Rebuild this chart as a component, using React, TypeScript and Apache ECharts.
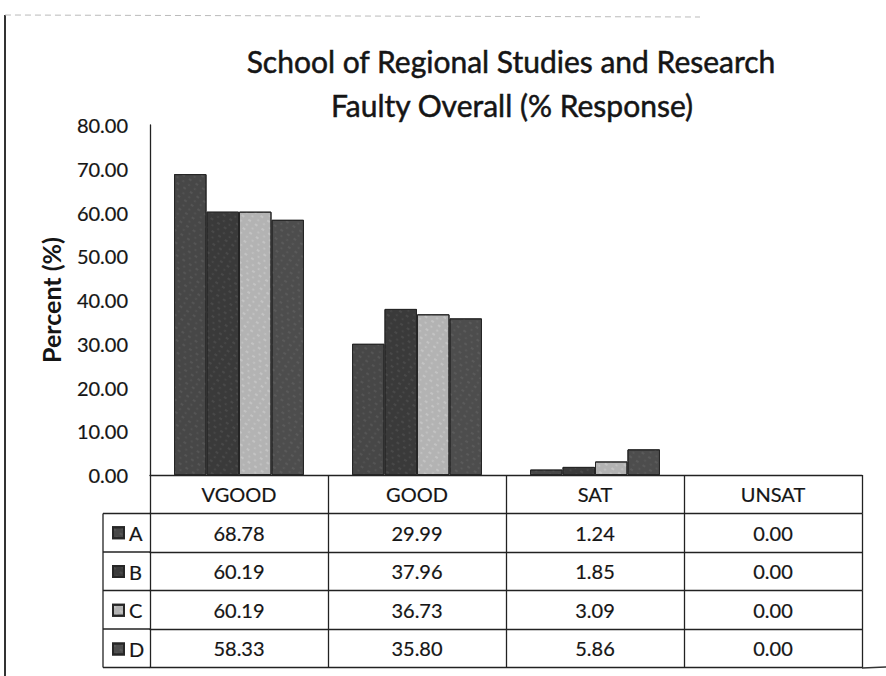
import React, { useEffect, useRef } from "react";
import * as echarts from "echarts";

const categories = ["VGOOD", "GOOD", "SAT", "UNSAT"];
const seriesNames = ["A", "B", "C", "D"];
const valuesA = [68.78, 29.99, 1.24, 0.0];
const valuesB = [60.19, 37.96, 1.85, 0.0];
const valuesC = [60.19, 36.73, 3.09, 0.0];
const valuesD = [58.33, 35.8, 5.86, 0.0];
const rows = [valuesA, valuesB, valuesC, valuesD];
const barColors = ["#474747", "#3a3a3a", "#b3b3b3", "#4d4d4d"];

const FONT = "Lato";
const ROW = 38.5;
const GRID_LEFT = 150;
const GRID_TOP = 125;
const GRID_BOTTOM_Y = 475;
const GRID_RIGHT_X = 862;
const LEG_LEFT = 103;
const TXT = "#151515";

export default function App() {
  const ref = useRef<HTMLDivElement>(null);
  useEffect(() => {
    if (!ref.current) return;
    const chart = echarts.init(ref.current, null, { renderer: "svg" });

    const labelStyle = {
      fontFamily: FONT,
      fontSize: 20,
      color: TXT,
      textBorderColor: TXT,
      textBorderWidth: 0.2,
    };

    const xAxes = [0, 1, 2, 3, 4, 5].map((k) => ({
      type: "category",
      data: categories,
      position: "bottom",
      offset: k * ROW,
      boundaryGap: true,
      axisLine: { show: true, lineStyle: { color: "#222", width: 1.3 } },
      axisTick: {
        show: k < 5,
        length: ROW,
        interval: 0,
        alignWithLabel: false,
        lineStyle: { color: "#222", width: 1.3 },
      },
      axisLabel: {
        show: k < 5,
        interval: 0,
        margin: ROW / 2,
        verticalAlign: "middle",
        ...labelStyle,
        formatter:
          k === 0
            ? (v: string) => v
            : (_v: string, i: number) => rows[k - 1][i].toFixed(2),
      },
      splitLine: { show: false },
    }));

    const legendLines: any[] = [];
    for (let r = 1; r <= 5; r++) {
      const y = GRID_BOTTOM_Y + r * ROW;
      legendLines.push({
        type: "line",
        shape: { x1: LEG_LEFT, y1: y, x2: GRID_LEFT, y2: y },
        style: { stroke: "#222", lineWidth: 1.3 },
      });
    }
    legendLines.push({
      type: "line",
      shape: {
        x1: LEG_LEFT,
        y1: GRID_BOTTOM_Y + ROW,
        x2: LEG_LEFT,
        y2: GRID_BOTTOM_Y + 5 * ROW,
      },
      style: { stroke: "#222", lineWidth: 1.3 },
    });

    const titleStyle = {
      fontFamily: FONT,
      fontSize: 30,
      fontWeight: "normal",
      color: TXT,
      textBorderColor: TXT,
      textBorderWidth: 0.5,
    };

    chart.setOption({
      animation: false,
      backgroundColor: "#ffffff",
      title: [
        {
          text: "School of Regional Studies and Research",
          left: 506,
          top: 41,
          textAlign: "center",
          textStyle: titleStyle,
        },
        {
          text: "Faulty Overall (% Response)",
          left: 507,
          top: 85,
          textAlign: "center",
          textStyle: titleStyle,
        },
      ],
      legend: {
        data: seriesNames,
        orient: "vertical",
        left: 112,
        top: GRID_BOTTOM_Y + ROW + ROW / 2 - 10,
        padding: 0,
        itemWidth: 11,
        itemHeight: 11,
        itemGap: ROW - 20,
        icon: "rect",
        textStyle: { ...labelStyle, lineHeight: 20 },
      },
      grid: {
        left: GRID_LEFT,
        top: GRID_TOP,
        right: 886 - GRID_RIGHT_X,
        bottom: 676 - GRID_BOTTOM_Y,
        containLabel: false,
      },
      xAxis: xAxes,
      yAxis: {
        type: "value",
        min: 0,
        max: 80,
        interval: 10,
        name: "Percent (%)",
        nameLocation: "middle",
        nameRotate: 90,
        nameGap: 87,
        nameTextStyle: {
          fontFamily: FONT,
          fontSize: 25,
          fontWeight: "bold",
          color: TXT,
        },
        axisLine: { show: true, lineStyle: { color: "#222", width: 1.3 } },
        axisTick: { show: false },
        splitLine: { show: false },
        axisLabel: {
          ...labelStyle,
          margin: 22,
          formatter: (v: number) => v.toFixed(2),
        },
      },
      series: rows.map((vals, i) => ({
        name: seriesNames[i],
        type: "bar",
        xAxisIndex: 0,
        yAxisIndex: 0,
        data: vals.map((v) =>
          v === 0 ? { value: v, itemStyle: { borderWidth: 0 } } : v
        ),
        barGap: "0%",
        barCategoryGap: "27%",
        itemStyle: {
          color: barColors[i],
          borderColor: "#262626",
          borderWidth: 1,
          decal: {
            symbol: "rect",
            symbolSize: 0.6,
            color: i === 2 ? "rgba(255,255,255,0.35)" : "rgba(170,170,170,0.22)",
            dashArrayX: [[3, 4], [5, 3]],
            dashArrayY: [2, 3],
            rotation: 0.6,
          },
        },
      })),
      graphic: [
        ...legendLines,
        {
          type: "line",
          shape: { x1: 5, y1: 15, x2: 5, y2: 676 },
          style: { stroke: "#333", lineWidth: 2 },
        },
        {
          type: "line",
          shape: { x1: 5, y1: 15, x2: 700, y2: 17 },
          style: { stroke: "#bbb", lineWidth: 1, lineDash: [6, 4] },
        },
        {
          type: "line",
          shape: { x1: 862, y1: 668, x2: 886, y2: 667 },
          style: { stroke: "#333", lineWidth: 1.3 },
        },
      ],
    });

    return () => chart.dispose();
  }, []);

  return (
    <div
      ref={ref}
      style={{ position: "absolute", left: 0, top: 0, width: 886, height: 676 }}
    />
  );
}
